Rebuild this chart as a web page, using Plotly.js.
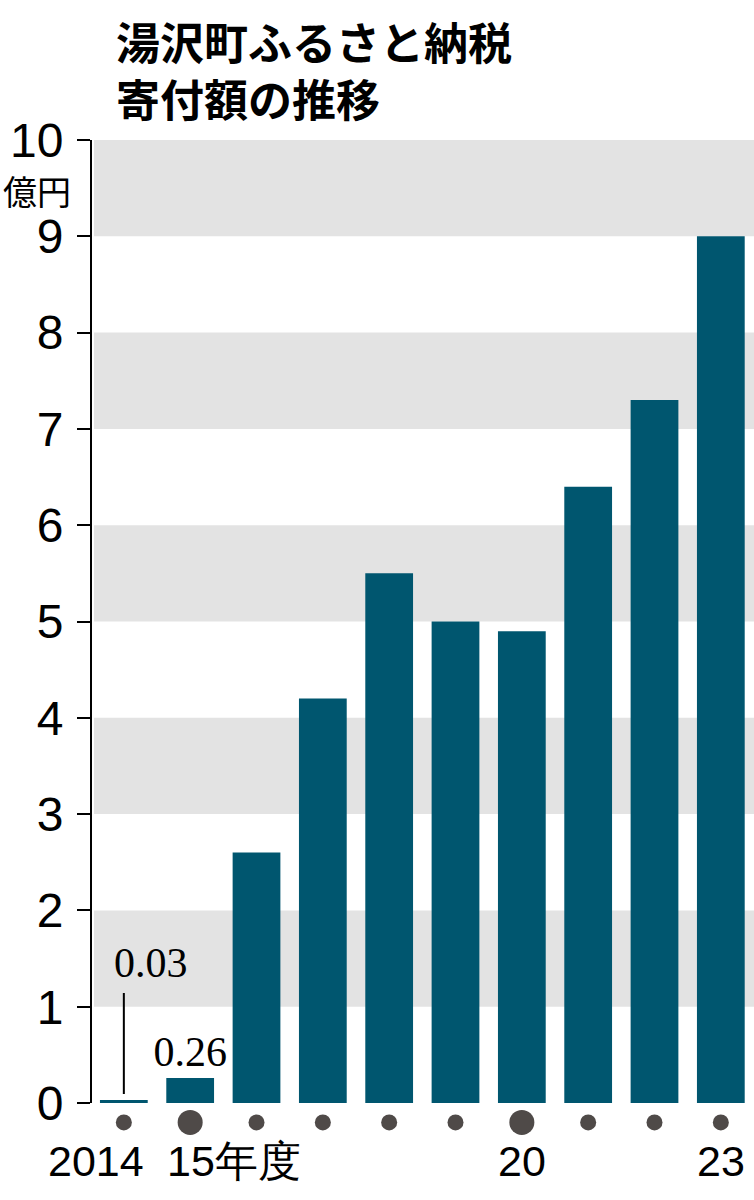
<!DOCTYPE html>
<html>
<head>
<meta charset="utf-8">
<script src="https://cdn.plot.ly/plotly-3.0.1.min.js"></script>
<style>html,body{margin:0;padding:0;background:#fff;}#chart{width:754px;height:1200px;}</style>
</head>
<body>
<div id="chart"></div>
<script>
// Data
const years = [2014, 2015, 2016, 2017, 2018, 2019, 2020, 2021, 2022, 2023];
const amounts = [0.03, 0.26, 2.6, 4.2, 5.5, 5.0, 4.9, 6.4, 7.3, 9.0]; // 億円
const yTickVals = [0, 1, 2, 3, 4, 5, 6, 7, 8, 9, 10];
const xLabelYears = [2014, 2015, 2020, 2023];
const xLabelTexts = ['2014', '15年度', '20', '23'];
const titleText = '湯沢町ふるさと納税<br>寄付額の推移';
const unitText = '億円';

const cats = years.map(String);
const barColor = '#00566f';
const dotColor = '#4f4a48';

// layout geometry (pixels)
const figW = 754, figH = 1200, marginTop = 140, marginLeft = 92, zeroPx = 1103;
const mainBottom = (figH - zeroPx) / (figH - marginTop);

const bars = {
  type: 'bar',
  x: cats,
  y: amounts,
  xaxis: 'x', yaxis: 'y',
  marker: {color: barColor, line: {width: 0}},
  text: amounts.map((v, i) => i === 1 ? v.toFixed(2) : ''),
  textposition: 'outside',
  constraintext: 'none',
  textfont: {family: 'Liberation Serif, serif', size: 42, color: '#000'},
  cliponaxis: false,
  hoverinfo: 'none'
};

const dots = {
  type: 'scatter',
  mode: 'markers',
  x: cats,
  y: years.map(() => 0.8),
  xaxis: 'x', yaxis: 'y2',
  marker: {color: dotColor, size: years.map(y => y % 5 === 0 ? 25 : 16), line: {width: 0}, opacity: 1},
  hoverinfo: 'none'
};

const shapes = [];
for (let v = 1; v < 10; v += 2) {
  shapes.push({type: 'rect', xref: 'paper', yref: 'y', x0: 0.003, x1: 1, y0: v, y1: v + 1,
    fillcolor: '#e3e3e3', line: {width: 0}, layer: 'below'});
}

const annotations = [];
// title
annotations.push({xref: 'paper', yref: 'paper', x: 0, y: 1, xanchor: 'left', yanchor: 'bottom',
  xshift: 22, yshift: 8, align: 'left', text: titleText, showarrow: false,
  font: {family: 'Noto Sans CJK JP', size: 44, color: '#000', weight: 'bold'}});
// unit label
annotations.push({xref: 'paper', yref: 'y', x: 0, y: 10, xanchor: 'right', yanchor: 'top',
  xshift: -19, yshift: -24, text: unitText, showarrow: false,
  font: {family: 'Noto Sans CJK JP', size: 34, color: '#000'}});
// leader line for 2014 value (category index 0)
const i0 = 0;
annotations.push({x: i0, y: amounts[i0], xref: 'x', yref: 'y', text: ' ', showarrow: true,
  arrowhead: 0, arrowwidth: 2, arrowcolor: '#000', ax: 0, ay: -110, standoff: 6,
  font: {size: 2}});
annotations.push({x: i0, y: amounts[i0], xref: 'x', yref: 'y', text: amounts[i0].toFixed(2),
  showarrow: false, xanchor: 'left', yanchor: 'bottom', xshift: -12, yshift: 112,
  font: {family: 'Liberation Serif, serif', size: 42, color: '#000'}});
// x labels
xLabelYears.forEach((yr, i) => {
  const idx = years.indexOf(yr);
  const anchor = i === 0 ? 'right' : (i === 1 ? 'left' : 'center');
  const shift = i === 0 ? 22 : (i === 1 ? -25 : 0);
  annotations.push({x: idx, y: 0.8, xref: 'x', yref: 'y2', yanchor: 'top', xanchor: anchor,
    xshift: shift, yshift: -13, text: xLabelTexts[i], showarrow: false,
    font: {family: 'Liberation Sans, Arial, sans-serif', size: 43, color: '#000'}});
});

const layout = {
  width: figW, height: figH,
  margin: {l: marginLeft, r: 0, t: marginTop, b: 0, pad: 0},
  paper_bgcolor: '#fff', plot_bgcolor: 'rgba(0,0,0,0)',
  showlegend: false,
  bargap: 0.28,
  xaxis: {type: 'category', range: [-0.48, 9.5], showticklabels: false, ticks: '',
    showgrid: false, zeroline: false, showline: false, fixedrange: true, anchor: 'y'},
  yaxis: {domain: [mainBottom, 1], range: [0, 10], tickvals: yTickVals, ticktext: yTickVals.map(String),
    ticks: 'outside', ticklen: 13, tickwidth: 2, tickcolor: '#000',
    showline: true, linecolor: '#000', linewidth: 2, showgrid: false, zeroline: false,
    tickfont: {family: 'Liberation Sans, Arial, sans-serif', size: 48, color: '#000'},
    ticklabelstandoff: 4, fixedrange: true},
  yaxis2: {domain: [0, mainBottom], range: [0, 1], visible: false, fixedrange: true},
  shapes: shapes,
  annotations: annotations
};

Plotly.newPlot('chart', [bars, dots], layout, {displayModeBar: false, staticPlot: true});
</script>
</body>
</html>
